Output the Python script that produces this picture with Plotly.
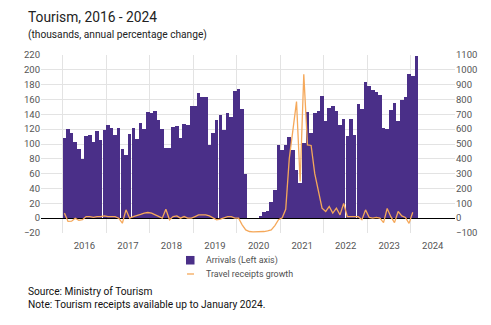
import plotly.graph_objects as go
import pandas as pd

# ---------------- data ----------------
months = pd.date_range("2016-01-01", "2024-02-01", freq="MS")

arrivals_2016 = [108, 120, 114.5, 103, 93.4, 80, 111, 112, 103, 118, 105, 119]
arrivals_2017 = [125, 121, 112, 121, 93, 85, 113, 121, 107, 128, 120, 143]
arrivals_2018 = [141.5, 144.6, 132.5, 120, 94, 94, 122.6, 124.4, 108, 127, 126, 151]
arrivals_2019 = [151, 168.5, 163.5, 163, 99, 114.5, 132.5, 139, 119, 142.4, 137, 172]
arrivals_2020 = [174, 147, 60, 0, 0, 0, 3, 8.5, 10, 22, 37.5, 98]
arrivals_2021 = [92, 98, 109, 92, 65, 48, 101, 143, 114.5, 142, 144.6, 165]
arrivals_2022 = [131.6, 148, 151.4, 144.6, 125.8, 133.4, 111, 133.4, 112, 154, 147, 183]
arrivals_2023 = [178, 173, 170, 166, 121, 120, 146, 155, 131, 159, 164, 194]
arrivals_2024 = [192, 218]

growth_2016 = [34, -22, -20, 0, -15, -10, 11, 11, 5, 11, 11, 15]
growth_2017 = [11, 11, 11, 0, -34, 56, 0, 11, 16, 25, 34, 38]
growth_2018 = [34, 22, 11, 0, 60, -11, 11, 15, 0, 11, 0, 0]
growth_2019 = [11, 22, 22, 22, 15, 0, -11, -6, 0, 11, 11, 0]
growth_2020 = [0, -45, -79, -90, -92, -92, -90, -90, -85, -79, -50, -10]
growth_2021 = [2, 60, 400, 590, 786, 247, 970, 494, 490, 300, 185, 67]
growth_2022 = [45, 79, 34, 67, 22, 100, 11, 12, 10, 10, -10, 56]
growth_2023 = [5, 0, 5, 0, -30, 65, 10, -30, 45, 15, 5, -35]
growth_2024 = [40]

arrivals = (arrivals_2016 + arrivals_2017 + arrivals_2018 + arrivals_2019 + arrivals_2020
            + arrivals_2021 + arrivals_2022 + arrivals_2023 + arrivals_2024)
growth = (growth_2016 + growth_2017 + growth_2018 + growth_2019 + growth_2020
          + growth_2021 + growth_2022 + growth_2023 + growth_2024)

left_ticks = list(range(-20, 221, 20))
right_ticks = list(range(-100, 1101, 100))

bar_name = "Arrivals (Left axis)"
line_name = "Travel receipts growth"

PURPLE = "#4a2f88"
ORANGE = "#f5a85a"
FONT = "Roboto"

# ---------------- figure ----------------
fig = go.Figure()
fig.add_trace(go.Bar(
    x=months, y=arrivals, name=bar_name,
    marker=dict(color=PURPLE, line=dict(width=0)),
    xperiod="M1", xperiodalignment="middle", showlegend=False,
))
fig.add_trace(go.Scatter(
    x=months[:len(growth)], y=growth, name=line_name, yaxis="y2",
    mode="lines", line=dict(color=ORANGE, width=1.3),
    xperiod="M1", xperiodalignment="middle", showlegend=False,
))

fig.update_layout(
    width=491, height=325,
    margin=dict(l=41, r=36, t=55, b=92),
    paper_bgcolor="white", plot_bgcolor="white",
    font=dict(family=FONT, size=10, color="#555"),
    bargap=0,
    showlegend=False,
    xaxis=dict(
        type="date", range=["2015-07-04", "2025-01-05"],
        tick0="2016-01-01", dtick="M12", tickformat="%Y", ticklabelmode="period",
        showgrid=True, gridcolor="#e3e3e3", gridwidth=1,
        ticks="", showline=False, zeroline=False, ticklabelstandoff=5,
        tickfont=dict(size=9.5, color="#555"),
    ),
    yaxis=dict(
        range=[-20, 220], tickvals=left_ticks,
        showgrid=True, gridcolor="#e3e3e3", gridwidth=1,
        zeroline=True, zerolinecolor="black", zerolinewidth=1.2,
        ticks="", showline=False, tickfont=dict(size=9.5, color="#555"),
    ),
    yaxis2=dict(
        range=[-100, 1100], tickvals=right_ticks, overlaying="y", side="right",
        showgrid=False, zeroline=False, ticks="", showline=False,
        tickfont=dict(size=9.5, color="#555"),
    ),
)

# legend (drawn below the plot)
fig.add_shape(type="rect", xref="paper", yref="paper",
              x0=0.3502, x1=0.3708, y0=-0.177, y1=-0.129,
              fillcolor=PURPLE, line=dict(width=0))
fig.add_shape(type="line", xref="paper", yref="paper",
              x0=0.3527, x1=0.3696, y0=-0.2303, y1=-0.2303,
              line=dict(color=ORANGE, width=1.3))
for txt, yy in [(bar_name, -0.1517), (line_name, -0.2303)]:
    fig.add_annotation(text=txt, x=0.3937, y=yy, xref="paper", yref="paper",
                       xanchor="left", yanchor="middle", showarrow=False,
                       font=dict(family=FONT, size=8.9, color="#505050"))

annos = [
    dict(text="Tourism, 2016 - 2024", x=-0.0362, y=1.213, size=13.8, color="#222"),
    dict(text="(thousands, annual percentage change)", x=-0.0362, y=1.112, size=10.2, color="#222"),
    dict(text="Source: Ministry of Tourism<br>Note: Tourism receipts available up to January 2024.",
         x=-0.0362, y=-0.3624, size=10.2, color="#111"),
]
for a in annos:
    fig.add_annotation(text=a["text"], x=a["x"], y=a["y"], xref="paper", yref="paper",
                       xanchor="left", yanchor="middle", showarrow=False, align="left",
                       font=dict(family=FONT, size=a["size"], color=a["color"]))

fig.write_html("out.html")
